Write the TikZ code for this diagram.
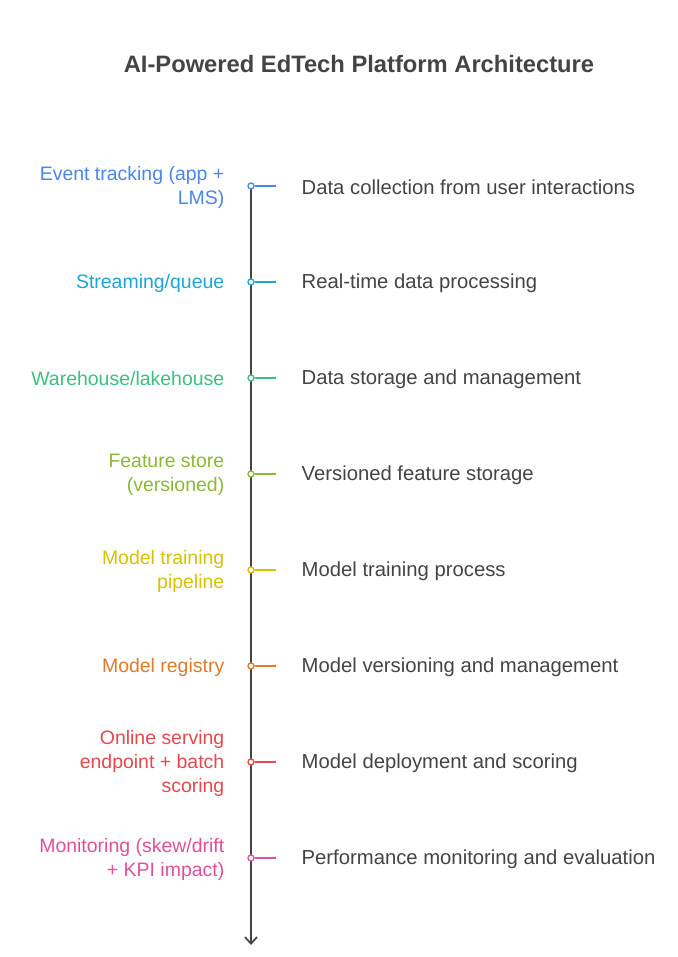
\documentclass[tikz,border=0pt]{standalone}
\usepackage{fontspec}
\setmainfont{Liberation Sans}
\usetikzlibrary{positioning,arrows.meta}
\definecolor{cEvt}{HTML}{4A86E8}
\definecolor{cStr}{HTML}{1DA5D6}
\definecolor{cWh}{HTML}{3DBE82}
\definecolor{cFs}{HTML}{8DB833}
\definecolor{cMt}{HTML}{D8C100}
\definecolor{cMr}{HTML}{E07B2A}
\definecolor{cOs}{HTML}{E5484D}
\definecolor{cMo}{HTML}{E0509A}
\definecolor{txt}{HTML}{444444}
\tikzset{
  stage/.style={anchor=east,align=right,font=\fontsize{14.6}{18}\selectfont},
  desc/.style={anchor=west,text=txt,font=\fontsize{15.2}{18}\selectfont},
  dot/.style={circle,draw,fill=white,line width=1pt,inner sep=1.6pt}
}
\begin{document}
\begin{tikzpicture}[x=0.75pt,y=-0.75pt]
      \useasboundingbox (0,0) rectangle (678,957);
      \node[font=\bfseries\fontsize{17.8}{20}\selectfont,text=txt] (title) at (359,64) {AI-Powered EdTech Platform Architecture};
      \coordinate (top) at (251,186);
      \coordinate (bottom) at (251,945);
      \draw[txt,line width=1.3pt,-{Straight Barb[length=5pt,width=9pt]}] (top) -- (bottom);
      \foreach \i/\y/\c/\l/\d in {
        1/186/cEvt/{Event tracking (app +\\LMS)}/{Data collection from user interactions},
        2/282/cStr/{Streaming/queue}/{Real-time data processing},
        3/378/cWh/{Warehouse/lakehouse}/{Data storage and management},
        4/474/cFs/{Feature store\\(versioned)}/{Versioned feature storage},
        5/570/cMt/{Model training\\pipeline}/{Model training process},
        6/666/cMr/{Model registry}/{Model versioning and management},
        7/762/cOs/{Online serving\\endpoint + batch\\scoring}/{Model deployment and scoring},
        8/858/cMo/{Monitoring (skew/drift\\+ KPI impact)}/{Performance monitoring and evaluation}}{
        \node[dot,draw=\c] (d\i) at (251,\y) {};
        \coordinate (e\i) at (276,\y);
        \draw[\c,line width=1.2pt] (d\i) -- (e\i);
        \node[stage,text=\c] (s\i) at (229,\y+1) {\l};
        \node[desc] (t\i) at (297,\y+1) {\d};
      }
 \end{tikzpicture}
\end{document}
